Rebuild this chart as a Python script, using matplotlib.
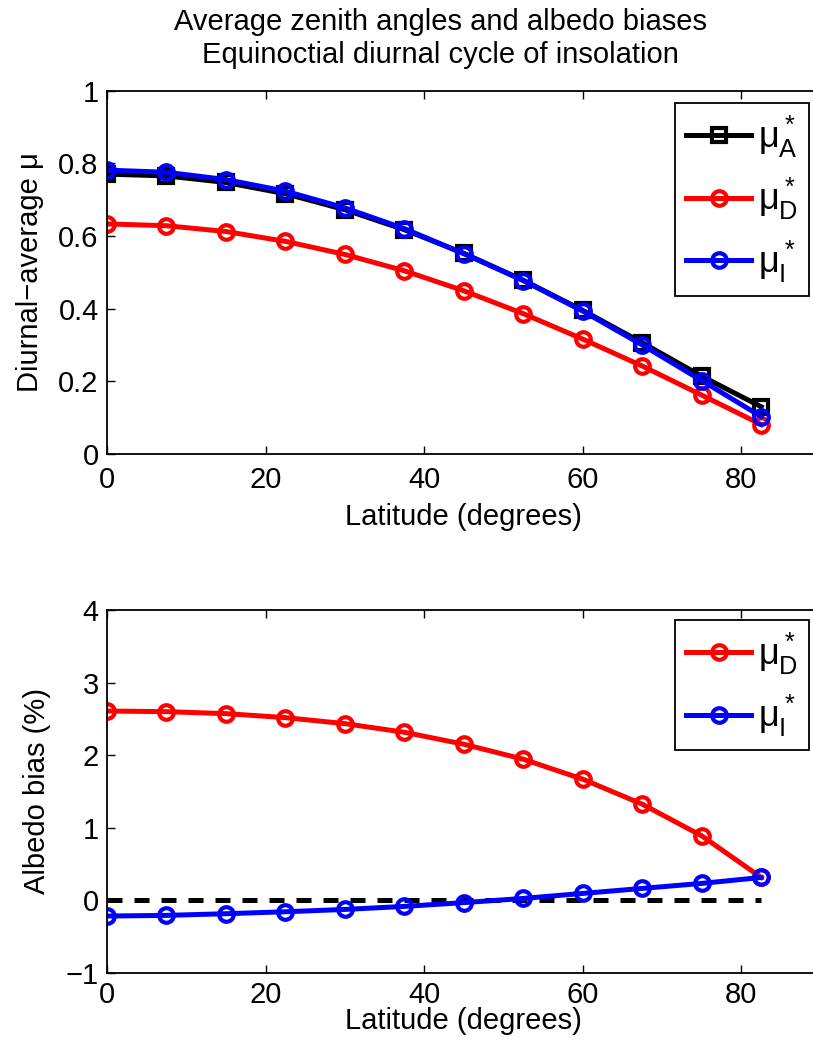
import matplotlib
matplotlib.use("Agg")
import matplotlib.pyplot as plt

plt.rcParams['font.family'] = ['Liberation Sans', 'DejaVu Sans']
plt.rcParams['mathtext.fontset'] = 'custom'
plt.rcParams['mathtext.rm'] = 'Liberation Sans'
plt.rcParams['mathtext.it'] = 'Liberation Sans'
plt.rcParams['axes.unicode_minus'] = True

# latitude of each point (degrees)
lat = [0, 7.5, 15, 22.5, 30, 37.5, 45, 52.5, 60, 67.5, 75, 82.5]

# diurnal-average cosine of zenith angle
mu_A = [0.770, 0.765, 0.747, 0.716, 0.672, 0.617, 0.552, 0.478, 0.395, 0.306, 0.214, 0.130]
mu_D = [0.633, 0.628, 0.612, 0.585, 0.549, 0.504, 0.449, 0.386, 0.316, 0.242, 0.162, 0.081]
mu_I = [0.781, 0.775, 0.755, 0.723, 0.677, 0.620, 0.551, 0.477, 0.393, 0.300, 0.202, 0.103]

# albedo bias (%)
bias_D = [2.607, 2.598, 2.571, 2.516, 2.433, 2.314, 2.149, 1.942, 1.667, 1.322, 0.886, 0.312]
bias_I = [-0.220, -0.211, -0.188, -0.161, -0.129, -0.087, -0.035, 0.023, 0.092, 0.161, 0.230, 0.312]

xticks = [0, 20, 40, 60, 80]
yticks_top = [0, 0.2, 0.4, 0.6, 0.8, 1]
ytick_labels_top = ['0', '0.2', '0.4', '0.6', '0.8', '1']
yticks_bot = [-1, 0, 1, 2, 3, 4]

W, H = 813, 1053
fig = plt.figure(figsize=(W / 100, H / 100), dpi=100)

left = 107 / W
width = 713.7 / W
h1 = 363.5
h2 = 362.6
ax1 = fig.add_axes([left, 1 - 454 / H, width, h1 / H])
ax2 = fig.add_axes([left, 1 - 972.6 / H, width, h2 / H])

lw = 3.6
ms = 10.5
mew = 3.0
circ = dict(marker='o', markersize=ms, markeredgewidth=mew, markerfacecolor='none', linewidth=lw)

ax1.plot(lat, mu_A, color='k', marker='s', markersize=9.5, markeredgewidth=mew,
         markerfacecolor='none', linewidth=lw, label=r'$\mu^*_A$')
ax1.plot(lat, mu_D, color='r', label=r'$\mu^*_D$', **circ)
ax1.plot(lat, mu_I, color='b', label=r'$\mu^*_I$', **circ)

ax2.plot([lat[0], lat[-1]], [0, 0], color='k', linestyle=(0, (3, 2.4)), linewidth=lw)
ax2.plot(lat, bias_D, color='r', label=r'$\mu^*_D$', **circ)
ax2.plot(lat, bias_I, color='b', label=r'$\mu^*_I$', **circ)

ax1.set_ylim(0, 1)
ax1.set_yticks(yticks_top)
ax1.set_yticklabels(ytick_labels_top)
ax2.set_ylim(-1, 4)
ax2.set_yticks(yticks_bot)

for ax in (ax1, ax2):
    ax.set_xlim(0, 90)
    ax.set_xticks(xticks)
    ax.tick_params(direction='in', length=6, width=1, top=True, right=True,
                   labelsize=21)
    ax.tick_params(axis='y', pad=6)
    for s in ax.spines.values():
        s.set_linewidth(1.3)
    ax.set_xlabel('Latitude (degrees)', fontsize=21, va='center')

ax1.tick_params(axis='x', pad=9)
ax2.tick_params(axis='x', pad=6)

ax1.set_ylabel('Diurnal\u2212average \u03bc', fontsize=21, va='center')
ax2.set_ylabel('Albedo bias (%)', fontsize=21, va='center')

# label positions in axes fractions
ax1.xaxis.set_label_coords(0.5, -(517 - 454) / h1)
ax2.xaxis.set_label_coords(0.5, -(1021 - 972.6) / h2)
ax1.yaxis.set_label_coords(-(107 - 30) / 713.7, 0.5)
ax2.yaxis.set_label_coords(-(107 - 37) / 713.7, 0.5)

fig.text(440 / W, 1 - 22 / H, 'Average zenith angles and albedo biases',
         fontsize=21, ha='center', va='center')
fig.text(440 / W, 1 - 55 / H, 'Equinoctial diurnal cycle of insolation',
         fontsize=21, ha='center', va='center')

leg_kw = dict(loc='upper right', borderaxespad=0, fontsize=26, handlelength=1.8,
              fancybox=False, framealpha=1, edgecolor='k', labelspacing=0.45,
              handletextpad=0.2, borderpad=0.3)
l1 = ax1.legend(bbox_to_anchor=(0.9836, 0.9656), **leg_kw)
l2 = ax2.legend(bbox_to_anchor=(0.9836, 0.9724), **leg_kw)
for l in (l1, l2):
    l.get_frame().set_linewidth(1.3)

fig.savefig('out.png', dpi=100)
